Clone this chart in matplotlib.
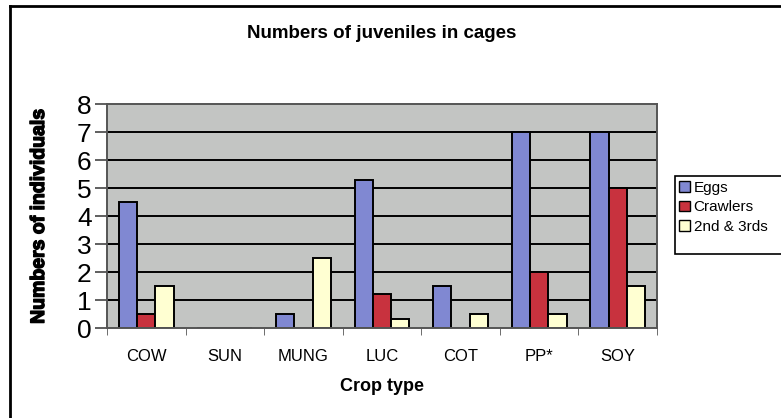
import matplotlib
matplotlib.use("Agg")
import matplotlib.pyplot as plt
import matplotlib.patheffects as pe
import numpy as np
from matplotlib.lines import Line2D
from matplotlib.patches import Rectangle, Patch

plt.rcParams['font.family'] = ['Liberation Sans', 'DejaVu Sans']

crops = ["COW", "SUN", "MUNG", "LUC", "COT", "PP*", "SOY"]
eggs = [4.5, 0, 0.5, 5.3, 1.5, 7, 7]
crawlers = [0.5, 0, 0, 1.2, 0, 2, 5]
later_instars = [1.5, 0, 2.5, 0.33, 0.5, 0.5, 1.5]
series_names = ["Eggs", "Crawlers", "2nd & 3rds"]
series_colors = ["#8088D2", "#C8323E", "#FFFFD2"]
y_ticks = [0, 1, 2, 3, 4, 5, 6, 7, 8]

W, H = 781, 418
fig = plt.figure(figsize=(W / 100, H / 100), dpi=100)
fig.patch.set_facecolor("white")

ax = fig.add_axes([107 / W, 1 - 328 / H, 550 / W, 224 / H])
ax.set_facecolor("#C3C5C3")

x = np.arange(len(crops))
bw = 0.233
for i, (vals, col, name) in enumerate(zip([eggs, crawlers, later_instars],
                                          series_colors, series_names)):
    ax.bar(x + (i - 1) * bw, vals, width=bw, color=col, edgecolor="black",
           linewidth=1.4, zorder=3, label=name)

ax.set_xlim(-0.5, len(crops) - 0.5)
ax.set_ylim(0, 8)
ax.set_yticks(y_ticks)
ax.set_yticklabels([str(v) for v in y_ticks], fontsize=19)
for v in y_ticks[1:-1]:
    ax.axhline(v, color="black", linewidth=1.4, zorder=2)

ax.set_xticks(x)
ax.set_xticklabels(crops, fontsize=12)
ax.set_xticks(np.arange(-0.5, len(crops), 1.0), minor=True)
ax.tick_params(axis="x", which="major", length=0, pad=15)
ax.tick_params(axis="x", which="minor", length=5, color="#555555", direction="out")
ax.tick_params(axis="y", length=9, color="#444444", width=1.2, pad=2)

for s in ax.spines.values():
    s.set_color("#555555")
    s.set_linewidth(1.4)
    s.set_zorder(4)

ylab = ax.set_ylabel("Numbers of individuals", fontsize=14, fontweight="heavy")
ylab.set_path_effects([pe.withStroke(linewidth=1.0, foreground="black")])
ax.yaxis.set_label_coords((48 - 107) / 550, 0.5)
ax.set_xlabel("Crop type", fontsize=13, fontweight="bold")
ax.xaxis.set_label_coords(0.5, -(378 - 328) / 224)
fig.text((107 + 657) / 2 / W, 1 - 33 / H, "Numbers of juveniles in cages",
         ha="center", va="center", fontsize=13.5, fontweight="bold")

# legend box
fig.patches.append(Rectangle((675 / W, 1 - 254 / H), 120 / W, 78 / H,
                             transform=fig.transFigure, facecolor="white",
                             edgecolor="black", linewidth=1.2))
handles = [Patch(facecolor=c, edgecolor="black", linewidth=1.0) for c in series_colors]
fig.legend(handles, series_names, loc="upper left",
           bbox_to_anchor=(676 / W, 1 - 178 / H), frameon=False,
           fontsize=11, handlelength=0.7, handleheight=0.7, handletextpad=0.25,
           labelspacing=0.35, borderpad=0.2, borderaxespad=0)

# outer chart border
fig.add_artist(Line2D([10 / W, 10 / W], [0, 1 - 6 / H], transform=fig.transFigure,
                      color="black", linewidth=2))
fig.add_artist(Line2D([10 / W, 1], [1 - 6 / H, 1 - 6 / H], transform=fig.transFigure,
                      color="black", linewidth=2))

fig.savefig("out.png", dpi=100)
